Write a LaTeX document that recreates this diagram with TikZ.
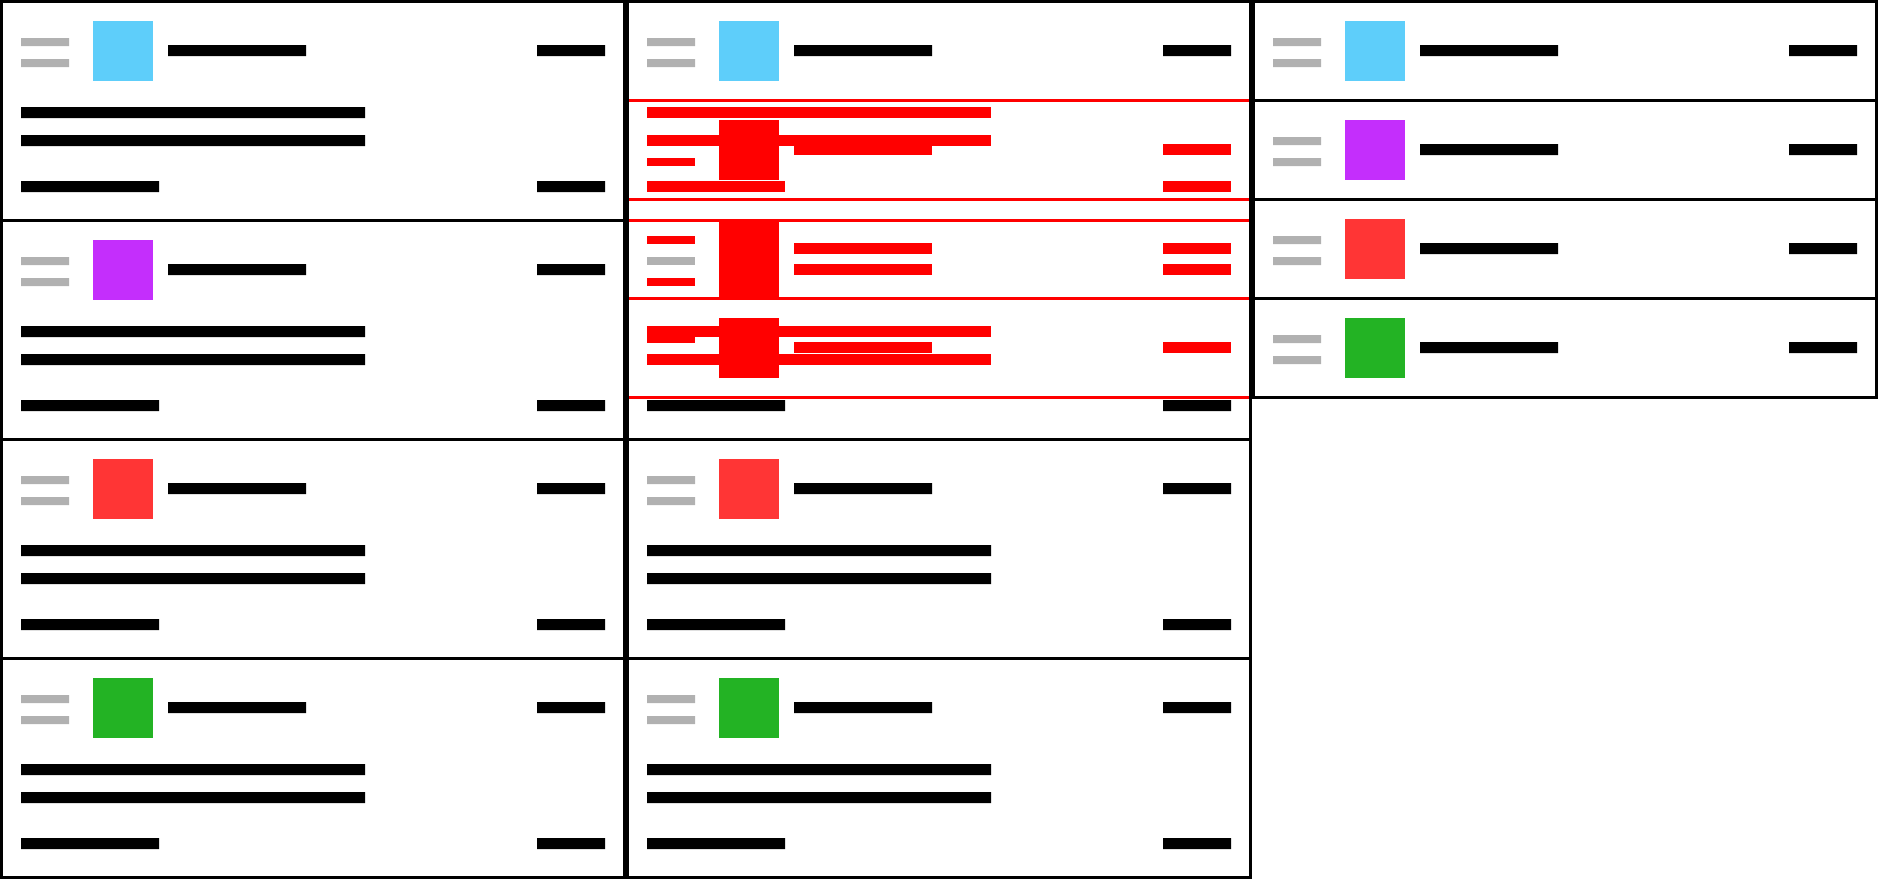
\documentclass[tikz,border=0pt]{standalone}
\usepackage{tikz}
\definecolor{cardcyan}{HTML}{5ECEFA}
\definecolor{cardmagenta}{HTML}{C42EFC}
\definecolor{cardred}{HTML}{FF3535}
\definecolor{cardgreen}{HTML}{23B324}
\definecolor{bargrey}{HTML}{B1B1B1}
\definecolor{diffred}{HTML}{FF0000}
\tikzset{frame/.style={draw=black,line width=1.5pt},
  diffline/.style={draw=diffred,line width=1.5pt}}
% card header: left, top, colour
\newcommand{\cardhead}[3]{%
  \fill[bargrey] (#1+21,#2+38) rectangle (#1+69,#2+46) (#1+21,#2+59) rectangle (#1+69,#2+67);
  \fill[#3] (#1+93,#2+21) rectangle (#1+153,#2+81);
  \fill (#1+168,#2+45) rectangle (#1+306,#2+56) (#1+537,#2+45) rectangle (#1+605,#2+56);}
% card body: left, top
\newcommand{\cardbody}[2]{%
  \fill (#1+21,#2+107) rectangle (#1+365,#2+118) (#1+21,#2+135) rectangle (#1+365,#2+146);
  \fill (#1+21,#2+181) rectangle (#1+159,#2+192) (#1+537,#2+181) rectangle (#1+605,#2+192);}
\begin{document}
\begin{tikzpicture}[x=0.5pt,y=-0.5pt]
\useasboundingbox (0,0) rectangle (1878,879);
% columns
\draw[frame] (1.5,1.5) rectangle (624.5,877.5) (627.5,1.5) rectangle (1250.5,877.5) (1253.5,1.5) rectangle (1876.5,397.5);
\foreach \y in {220.5,439.5,658.5} \draw[frame] (1.5,\y)--(624.5,\y) (627.5,\y)--(1250.5,\y);
\foreach \y in {100.5,199.5,298.5} \draw[frame] (1253.5,\y)--(1876.5,\y);
% cards
\foreach \l in {0,626} \foreach \t/\c in {0/cardcyan,219/cardmagenta,438/cardred,657/cardgreen} {\cardhead{\l}{\t}{\c}\cardbody{\l}{\t}}
\foreach \t/\c in {0/cardcyan,99/cardmagenta,198/cardred,297/cardgreen} \cardhead{1252}{\t}{\c}
% diff overlay
\fill[white] (629,99) rectangle (1249,399);
\fill (794,143) rectangle (932,154);
\foreach \xa/\ya/\xb/\yb in {647/107/991/118,647/135/991/146,647/181/785/192,1163/181/1231/192,
  719/120/779/180,794/144/932/155,1163/144/1231/155,647/158/695/166,
  647/236/695/244,719/219/779/300,794/243/932/254,1163/243/1231/254,794/264/932/275,1163/264/1231/275,647/278/695/286,
  719/318/779/378,647/335/695/343,647/326/991/337,647/354/991/365,794/342/932/353,1163/342/1231/353}
  \fill[diffred] (\xa,\ya) rectangle (\xb,\yb);
\fill[bargrey] (647,257) rectangle (695,265);
\foreach \y in {100.5,199.5,220.5,298.5,397.5} \draw[diffline] (629,\y)--(1249,\y);
\end{tikzpicture}
\end{document}
